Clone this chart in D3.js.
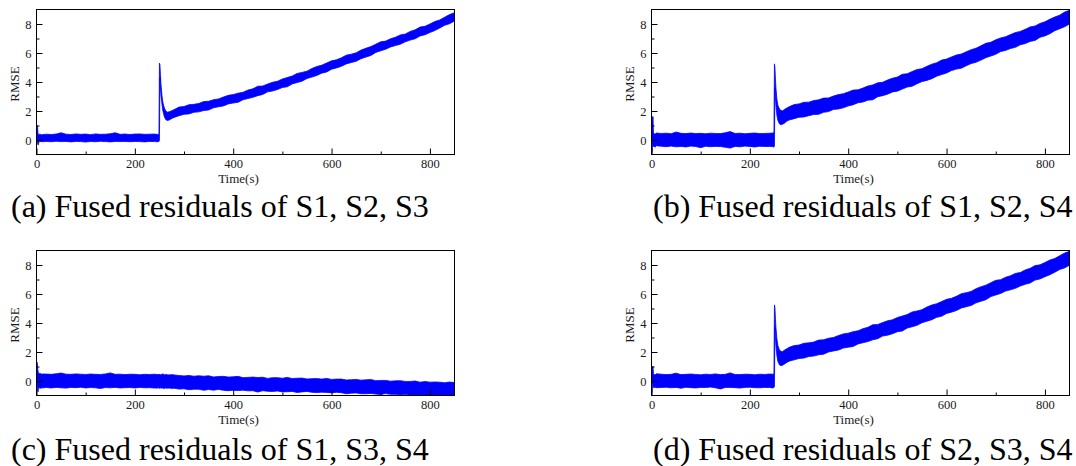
<!DOCTYPE html>
<html>
<head>
<meta charset="utf-8">
<script src="https://cdn.jsdelivr.net/npm/d3@7"></script>
<style>
  html, body { margin: 0; padding: 0; background: #fff; }
  svg { display: block; }
</style>
</head>
<body>
<svg id="fig" width="1076" height="466"></svg>
<script>
// Sample times (s) shared by every residual trace
const timeGrid = [0,1,2,3,4,5,7,10,
  20,30,40,50,60,70,80,90,100,110,120,130,140,150,160,170,180,190,200,210,220,230,240,
  247,249,250,251,252,253,255,257,260,263,266,270,275,280,
  290,300,310,320,330,340,350,360,370,380,390,400,410,420,430,440,450,460,470,480,490,
  500,510,520,530,540,550,560,570,580,590,600,610,620,630,640,650,660,670,680,690,
  700,710,720,730,740,750,760,770,780,790,800,810,820,830,840,850];

// Upper / lower envelope of the fused RMSE residual, one pair per sensor group
const s123Hi = [0.3,1.0,0.95,0.5,0.3,0.38,0.4,0.36,
  0.4,0.38,0.41,0.5,0.4,0.38,0.42,0.39,0.41,0.37,0.42,0.39,0.4,0.43,0.5,0.39,0.41,0.38,0.41,0.42,0.39,0.4,0.41,
  0.38,0.4,5.3,5.2,4.5,3.9,3.1,2.6,2.2,2.0,1.92,1.95,2.02,2.1,
  2.27,2.31,2.43,2.46,2.52,2.65,2.67,2.78,2.83,2.96,3.08,3.13,3.23,3.29,3.44,3.53,3.71,3.72,3.86,3.98,4.05,
  4.21,4.31,4.41,4.59,4.66,4.75,4.93,5.07,5.16,5.31,5.46,5.53,5.67,5.85,5.92,6.01,6.20,6.33,6.44,6.61,
  6.77,6.82,6.98,7.09,7.25,7.31,7.49,7.60,7.79,7.84,8.00,8.17,8.28,8.47,8.65,8.78];
const s123Lo = [-0.2,-0.25,-0.05,-0.35,-0.3,-0.12,-0.1,-0.12,
  -0.1,-0.12,-0.09,-0.11,-0.1,-0.13,-0.1,-0.11,-0.14,-0.1,-0.12,-0.09,-0.11,-0.13,-0.1,-0.11,-0.1,-0.12,-0.1,-0.11,-0.13,-0.1,-0.11,
  -0.12,-0.1,-0.05,4.3,3.6,3.1,2.5,2.0,1.6,1.4,1.35,1.38,1.48,1.56,
  1.68,1.77,1.80,1.91,1.94,2.03,2.07,2.22,2.29,2.35,2.49,2.55,2.60,2.78,2.86,2.94,3.06,3.14,3.32,3.38,3.48,
  3.62,3.67,3.87,3.96,4.06,4.24,4.34,4.45,4.61,4.69,4.88,4.97,5.08,5.25,5.34,5.43,5.61,5.72,5.83,6.04,
  6.15,6.26,6.42,6.51,6.61,6.77,6.89,6.98,7.18,7.26,7.41,7.55,7.72,7.91,8.02,8.21];

const s124Hi = [0.2,1.65,1.2,1.6,0.5,0.45,0.4,0.48,
  0.45,0.47,0.43,0.55,0.46,0.44,0.48,0.44,0.46,0.43,0.47,0.45,0.44,0.5,0.58,0.45,0.47,0.43,0.46,0.48,0.44,0.45,0.47,
  0.48,0.5,5.25,5.0,4.2,3.6,2.8,2.4,2.15,2.05,2.0,2.1,2.2,2.3,
  2.44,2.49,2.60,2.61,2.72,2.77,2.89,2.90,3.03,3.13,3.19,3.31,3.44,3.46,3.58,3.72,3.80,3.94,3.98,4.14,4.26,
  4.34,4.53,4.57,4.72,4.86,4.92,5.08,5.23,5.33,5.51,5.58,5.73,5.86,5.93,6.08,6.23,6.33,6.50,6.67,6.74,
  6.91,7.04,7.12,7.27,7.41,7.49,7.63,7.80,7.86,8.04,8.15,8.33,8.48,8.61,8.82,8.95];
const s124Lo = [-0.98,-0.9,-0.5,-0.4,-0.45,-0.42,-0.5,-0.4,
  -0.43,-0.46,-0.42,-0.47,-0.44,-0.48,-0.42,-0.45,-0.53,-0.43,-0.46,-0.44,-0.45,-0.5,-0.56,-0.44,-0.47,-0.42,-0.45,-0.48,-0.43,-0.45,-0.44,
  -0.45,-0.5,-0.4,3.6,2.9,2.4,1.7,1.35,1.12,1.05,1.08,1.15,1.3,1.38,
  1.47,1.57,1.59,1.68,1.76,1.77,1.91,1.96,2.11,2.14,2.22,2.35,2.43,2.57,2.62,2.75,2.77,2.98,3.06,3.16,3.31,
  3.37,3.51,3.65,3.71,3.88,4.03,4.11,4.23,4.40,4.51,4.62,4.79,4.89,4.95,5.12,5.27,5.36,5.51,5.68,5.79,
  5.91,6.10,6.18,6.31,6.39,6.57,6.65,6.80,6.87,7.08,7.18,7.33,7.54,7.67,7.81,8.00];

const s134Hi = [0.5,1.3,1.1,0.7,0.55,0.5,0.52,0.48,
  0.48,0.46,0.5,0.55,0.47,0.46,0.49,0.47,0.45,0.48,0.46,0.45,0.49,0.56,0.46,0.47,0.44,0.47,0.46,0.43,0.46,0.45,0.47,
  0.44,0.46,0.45,0.47,0.43,0.45,0.44,0.5,0.43,0.45,0.43,0.42,0.44,0.42,
  0.38,0.35,0.38,0.33,0.36,0.33,0.36,0.28,0.31,0.32,0.27,0.29,0.32,0.23,0.25,0.27,0.24,0.26,0.18,0.23,0.23,
  0.19,0.25,0.17,0.19,0.20,0.14,0.16,0.17,0.13,0.18,0.11,0.13,0.13,0.07,0.09,0.11,0.06,0.08,0.10,0.02,
  0.04,0.04,-0.01,0.01,0.02,-0.03,-0.03,0.00,-0.08,-0.04,-0.08,-0.07,-0.08,-0.12,-0.07,-0.11];
const s134Lo = [-0.5,-0.6,-0.3,-0.75,-0.5,-0.45,-0.5,-0.48,
  -0.45,-0.48,-0.44,-0.47,-0.49,-0.44,-0.46,-0.43,-0.48,-0.45,-0.47,-0.52,-0.45,-0.47,-0.44,-0.48,-0.46,-0.45,-0.48,-0.44,-0.47,-0.46,-0.49,
  -0.49,-0.47,-0.51,-0.48,-0.47,-0.5,-0.48,-0.49,-0.52,-0.48,-0.5,-0.49,-0.51,-0.5,
  -0.56,-0.54,-0.60,-0.57,-0.57,-0.64,-0.59,-0.63,-0.58,-0.64,-0.67,-0.64,-0.66,-0.63,-0.68,-0.67,-0.76,-0.67,-0.71,-0.72,-0.69,
  -0.75,-0.74,-0.72,-0.79,-0.75,-0.72,-0.78,-0.80,-0.77,-0.79,-0.82,-0.78,-0.81,-0.88,-0.84,-0.82,-0.88,-0.88,-0.86,-0.90,
  -0.93,-0.87,-0.92,-0.92,-0.97,-0.92,-0.98,-0.97,-1.04,-0.97,-1.02,-1.04,-0.99,-1.03,-1.05,-1.03];

const s234Hi = [0.1,1.03,0.8,1.0,0.5,0.45,0.42,0.5,
  0.47,0.44,0.46,0.54,0.44,0.46,0.48,0.45,0.43,0.47,0.45,0.49,0.44,0.46,0.56,0.45,0.44,0.47,0.46,0.43,0.47,0.45,0.48,
  0.47,0.5,5.25,5.05,4.3,3.7,2.9,2.45,2.15,2.06,2.02,2.12,2.22,2.32,
  2.44,2.48,2.60,2.63,2.69,2.82,2.84,2.95,3.00,3.13,3.25,3.30,3.40,3.46,3.61,3.70,3.88,3.89,4.03,4.15,4.22,
  4.38,4.48,4.58,4.76,4.83,4.92,5.10,5.24,5.33,5.48,5.63,5.70,5.84,6.02,6.09,6.18,6.37,6.50,6.61,6.78,
  6.94,6.99,7.15,7.26,7.42,7.48,7.66,7.77,7.96,8.01,8.17,8.34,8.45,8.64,8.82,8.95];
const s234Lo = [-0.96,-0.8,-0.4,-0.2,-0.45,-0.48,-0.42,-0.46,
  -0.45,-0.43,-0.47,-0.44,-0.5,-0.43,-0.46,-0.48,-0.44,-0.45,-0.42,-0.47,-0.55,-0.45,-0.44,-0.46,-0.49,-0.44,-0.43,-0.46,-0.47,-0.44,-0.45,
  -0.48,-0.45,-0.4,3.7,3.0,2.45,1.75,1.35,1.12,1.06,1.08,1.16,1.28,1.37,
  1.46,1.55,1.58,1.69,1.72,1.81,1.85,2.00,2.07,2.13,2.27,2.33,2.38,2.56,2.64,2.72,2.84,2.92,3.10,3.16,3.26,
  3.40,3.45,3.65,3.74,3.84,4.02,4.12,4.23,4.39,4.47,4.66,4.75,4.86,5.03,5.12,5.21,5.39,5.50,5.61,5.82,
  5.93,6.04,6.20,6.29,6.39,6.55,6.67,6.76,6.96,7.04,7.19,7.33,7.50,7.69,7.80,7.99];

// Axis ticks
const xMajorTicks = [0, 200, 400, 600, 800];
const xMinorTicks = [100, 300, 500, 700];
const yMajorTicks = [0, 2, 4, 6, 8];
const yMinorTicks = [1, 3, 5, 7];
const xDomain = [0, 850];
const yDomain = [-1, 9];

const captions = [
  "(a) Fused residuals of S1, S2, S3",
  "(b) Fused residuals of S1, S2, S4",
  "(c) Fused residuals of S1, S3, S4",
  "(d) Fused residuals of S2, S3, S4"
];
const series = [[s123Hi, s123Lo], [s124Hi, s124Lo], [s134Hi, s134Lo], [s234Hi, s234Lo]];

series.forEach(([hi, lo], i) => {
  if (hi.length !== timeGrid.length || lo.length !== timeGrid.length)
    throw new Error("series " + i + " length " + hi.length + "/" + lo.length + " vs " + timeGrid.length);
});

// Layout
const W = 418, H = 145;
const cells = [
  { left: 36.5,  top: 9.5,   capX: 11,  capY: 217 },
  { left: 651.5, top: 9.5,   capX: 653, capY: 217 },
  { left: 36.5,  top: 250.5, capX: 11,  capY: 460 },
  { left: 651.5, top: 250.5, capX: 653, capY: 460 }
];
const serif = "'Liberation Serif', 'Times New Roman', Times, serif";
const blue = "#0000ff";
const ink = "#1a1a1a";

const svg = d3.select("#fig");
const x = d3.scaleLinear().domain(xDomain).range([0, W]);
const y = d3.scaleLinear().domain(yDomain).range([H, 0]);

cells.forEach((c, i) => {
  const [hi, lo] = series[i];
  const g = svg.append("g").attr("transform", `translate(${c.left},${c.top})`);

  const clipId = "plot-clip-" + i;
  g.append("clipPath").attr("id", clipId)
    .append("rect").attr("x", 0).attr("y", 0).attr("width", W).attr("height", H);

  const rows = timeGrid.map((t, k) => ({ t, lo: lo[k], hi: hi[k] }));
  const band = d3.area()
    .x(d => x(d.t))
    .y0(d => y(d.lo))
    .y1(d => y(d.hi));

  g.append("path")
    .datum(rows)
    .attr("clip-path", `url(#${clipId})`)
    .attr("d", band)
    .attr("fill", blue)
    .attr("stroke", blue)
    .attr("stroke-width", 0.8)
    .attr("stroke-linejoin", "miter");

  // Bottom axis, ticks pointing inward
  const xAxis = g.append("g").attr("transform", `translate(0,${H})`)
    .call(d3.axisBottom(x).tickValues(xMajorTicks).tickSizeInner(-6).tickSizeOuter(0)
      .tickPadding(5).tickFormat(d3.format("d")));
  g.append("g").attr("transform", `translate(0,${H})`)
    .call(d3.axisBottom(x).tickValues(xMinorTicks).tickSizeInner(-3).tickSizeOuter(0).tickFormat(""))
    .call(a => a.select(".domain").remove());

  // Left axis, ticks pointing inward
  const yAxis = g.append("g")
    .call(d3.axisLeft(y).tickValues(yMajorTicks).tickSizeInner(-6).tickSizeOuter(0)
      .tickPadding(5).tickFormat(d3.format("d")));
  g.append("g")
    .call(d3.axisLeft(y).tickValues(yMinorTicks).tickSizeInner(-3).tickSizeOuter(0).tickFormat(""))
    .call(a => a.select(".domain").remove());

  [xAxis, yAxis].forEach(a => {
    a.select(".domain").remove();
    a.selectAll("text").attr("font-family", serif).attr("font-size", 12.5).attr("fill", ink);
  });
  g.selectAll(".tick line").attr("stroke", "#000");

  // Frame
  g.append("rect")
    .attr("x", 0).attr("y", 0).attr("width", W).attr("height", H)
    .attr("fill", "none").attr("stroke", "#000").attr("stroke-width", 1);

  // Axis titles
  g.append("text")
    .attr("x", 202).attr("y", H + 28.5)
    .attr("text-anchor", "middle")
    .attr("font-family", serif).attr("font-size", 13).attr("fill", ink)
    .text("Time(s)");
  g.append("text")
    .attr("transform", `translate(-17.5,${74.5}) rotate(-90)`)
    .attr("text-anchor", "middle")
    .attr("font-family", serif).attr("font-size", 13).attr("fill", ink)
    .text("RMSE");

  // Sub-figure caption
  svg.append("text")
    .attr("x", c.capX).attr("y", c.capY)
    .attr("font-family", serif).attr("font-size", 32).attr("fill", "#000")
    .text(captions[i]);
});
</script>
</body>
</html>
